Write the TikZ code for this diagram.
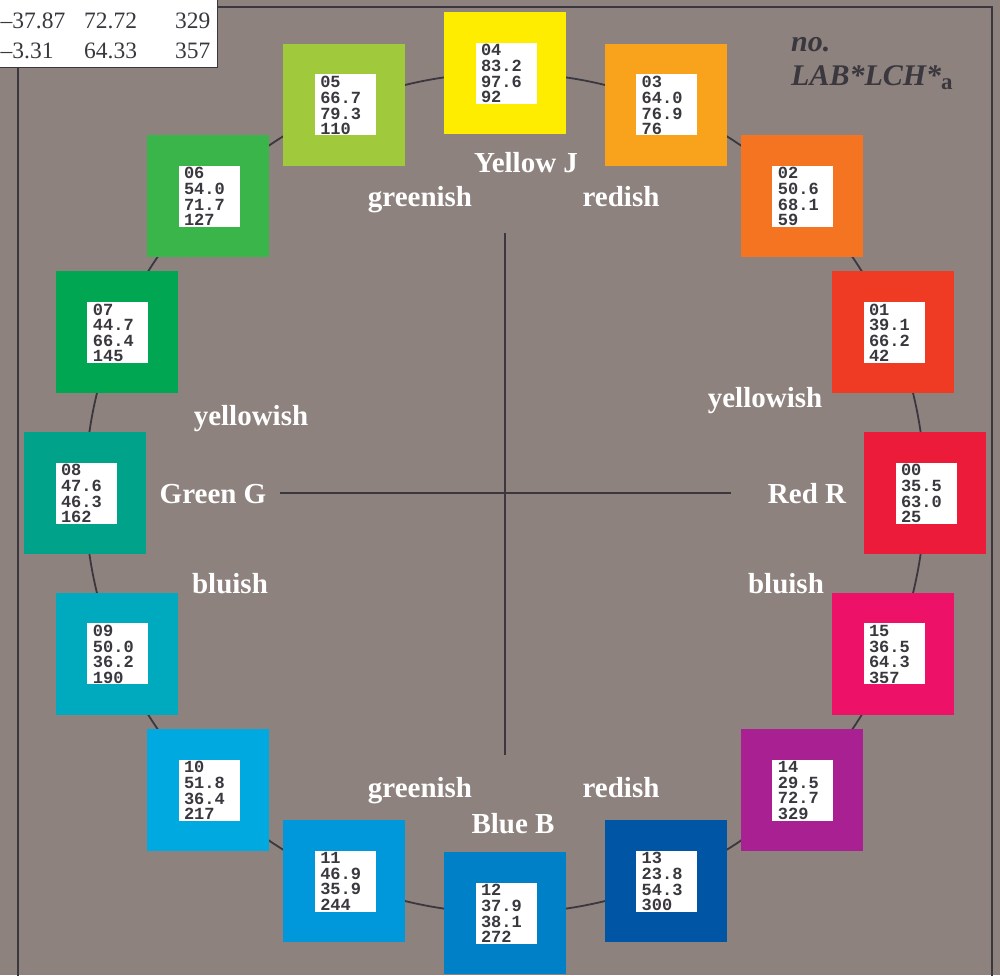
\documentclass[tikz,border=0pt]{standalone}
\usepackage{fontspec}
\setmainfont{Liberation Serif}
\setmonofont{Liberation Mono}
\definecolor{bg}{RGB}{141,130,126}
\definecolor{ink}{RGB}{58,56,62}
\definecolor{c00}{RGB}{237,27,58}
\definecolor{c01}{RGB}{239,58,36}
\definecolor{c02}{RGB}{244,116,33}
\definecolor{c03}{RGB}{249,162,27}
\definecolor{c04}{RGB}{255,237,0}
\definecolor{c05}{RGB}{160,202,60}
\definecolor{c06}{RGB}{58,181,74}
\definecolor{c07}{RGB}{0,166,81}
\definecolor{c08}{RGB}{0,163,138}
\definecolor{c09}{RGB}{0,170,190}
\definecolor{c10}{RGB}{0,170,224}
\definecolor{c11}{RGB}{0,152,218}
\definecolor{c12}{RGB}{0,128,198}
\definecolor{c13}{RGB}{0,85,165}
\definecolor{c14}{RGB}{168,32,146}
\definecolor{c15}{RGB}{238,17,104}
\tikzset{
  frameline/.style={draw=ink, line width=2pt},
  ringline/.style={draw=ink, line width=1.8pt},
  crossline/.style={draw=ink, line width=2.2pt},
  sqbox/.style={rectangle, minimum size=122pt, inner sep=0pt, draw=none},
  whitebox/.style={rectangle, minimum size=61pt, inner sep=0pt, fill=white, draw=none},
  datatext/.style={anchor=north west, inner sep=0pt, align=left, text=ink,
    font=\ttfamily\bfseries\fontsize{17}{15.6}\selectfont},
  lbl/.style={anchor=base, inner sep=0pt, text=white, font=\bfseries\fontsize{29}{29}\selectfont},
  tabtext/.style={anchor=base west, inner sep=0pt, text=ink, font=\fontsize{23.5}{23.5}\selectfont},
  titletext/.style={anchor=base west, inner sep=0pt, text=ink, font=\bfseries\itshape\fontsize{30}{30}\selectfont}
}
\begin{document}
\begin{tikzpicture}[x=1pt,y=-1pt]
\useasboundingbox (0,0) rectangle (1000,975);
\fill[bg] (0,0) rectangle (1000,975);
\draw[frameline] (18,7) rectangle (991.7,1000);
\coordinate (O) at (505,493);
\draw[ringline] (O) circle[radius=420pt];
\coordinate (hl) at (280,493);
\coordinate (hr) at (731,493);
\coordinate (vt) at (505,233);
\coordinate (vb) at (505,755);
\draw[crossline] (hl) -- (hr);
\draw[crossline] (vt) -- (vb);
\foreach \n/\va/\vb/\vc/\k in {00/35.5/63.0/25/0, 01/39.1/66.2/42/1, 02/50.6/68.1/59/2,
  03/64.0/76.9/76/3, 04/83.2/97.6/92/4, 05/66.7/79.3/110/5, 06/54.0/71.7/127/6,
  07/44.7/66.4/145/7, 08/47.6/46.3/162/8, 09/50.0/36.2/190/9, 10/51.8/36.4/217/10,
  11/46.9/35.9/244/11, 12/37.9/38.1/272/12, 13/23.8/54.3/300/13, 14/29.5/72.7/329/14,
  15/36.5/64.3/357/15} {
  \pgfmathsetmacro\cx{505+420*cos(\k*22.5)}
  \pgfmathsetmacro\cy{493-420*sin(\k*22.5)}
  \node[sqbox, fill=c\n] (s\n) at (\cx,\cy) {};
  \node[whitebox] (w\n) at ([xshift=1pt]s\n.center) {};
  \node[datatext] (t\n) at ([shift={(5.5,2)}]w\n.north west) {\n\\\va\\\vb\\\vc};
}
\node[lbl] (yj) at (526,172) {Yellow J};
\node[lbl] (gnt) at (420,206) {greenish};
\node[lbl] (rdt) at (621,206) {redish};
\node[lbl] (ywl) at (251,425) {yellowish};
\node[lbl] (ywr) at (765,407) {yellowish};
\node[lbl] (gg) at (213,503) {Green G};
\node[lbl] (rr) at (807,503) {Red R};
\node[lbl] (bll) at (230,593) {bluish};
\node[lbl] (blr) at (786,593) {bluish};
\node[lbl] (gnb) at (420,797) {greenish};
\node[lbl] (rdb) at (621,797) {redish};
\node[lbl] (bb) at (513,833) {Blue B};
\node[titletext] (no) at (791,51) {no.};
\node[titletext] (lab) at (791,85) {LAB*LCH*\raisebox{-4pt}{\upshape\fontsize{23}{23}\selectfont a}};
\fill[white] (-2,-2) rectangle (217.5,67.5);
\draw[ink, line width=1.8pt] (217.5,-2) -- (217.5,67.5) -- (-2,67.5);
\node[tabtext] (r1a) at (0.5,28.5) {–37.87};
\node[tabtext] (r1b) at (84,28.5) {72.72};
\node[tabtext] (r1c) at (175,28.5) {329};
\node[tabtext] (r2a) at (0.5,58.3) {–3.31};
\node[tabtext] (r2b) at (84,58.3) {64.33};
\node[tabtext] (r2c) at (175,58.3) {357};
\end{tikzpicture}
\end{document}
